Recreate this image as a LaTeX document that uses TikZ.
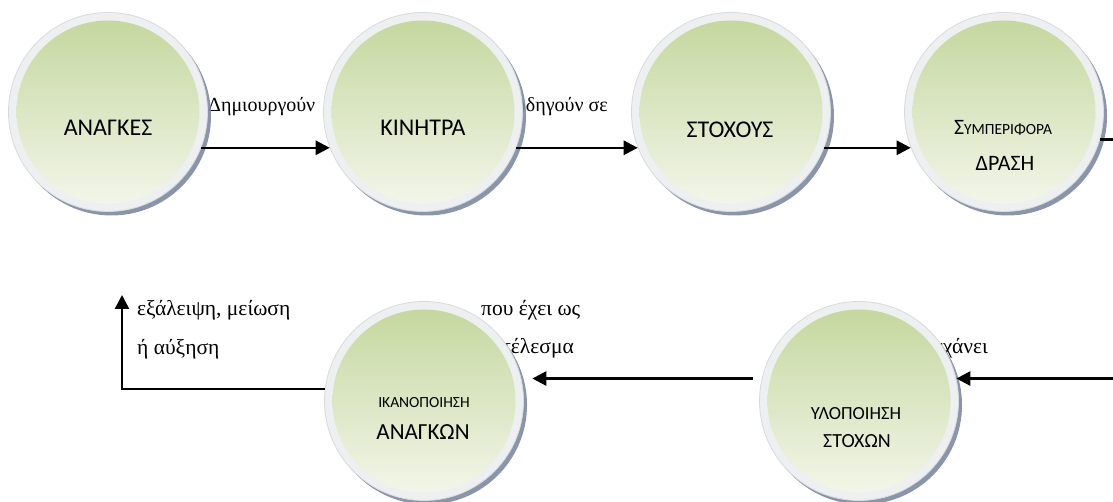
\documentclass[tikz,border=0pt]{standalone}
\usepackage{fontspec}
\setmainfont{Liberation Serif}
\newfontfamily\cfont{Carlito}
\usetikzlibrary{arrows.meta,shadows}

\definecolor{ringgray}{RGB}{238,239,240}
\definecolor{ringedge}{RGB}{215,218,222}
\definecolor{shadowblue}{RGB}{125,138,160}
\definecolor{greentop}{RGB}{195,214,156}
\definecolor{greenmid}{RGB}{214,227,186}
\definecolor{greenbot}{RGB}{244,247,236}

\tikzset{
  bubble/.style={circle, minimum size=199pt, inner sep=0pt,
    fill=ringgray, draw=ringedge, line width=0.8pt,
    drop shadow={shadow xshift=3.5pt, shadow yshift=-4pt, fill=shadowblue, opacity=0.9},
    path picture={\shade[top color=greentop, middle color=greenmid, bottom color=greenbot]
      (path picture bounding box.center) circle (91.5pt);}},
  flow/.style={line width=2.5pt, -{Triangle[length=14pt,width=14pt]}},
  lbl/.style={font=\fontsize{20}{24}\selectfont, inner sep=0pt},
  lblb/.style={font=\fontsize{21.5}{25}\selectfont, inner sep=0pt},
  ctext/.style={inner sep=0pt}
}

\begin{document}
\begin{tikzpicture}[x=1pt,y=-1pt]
\useasboundingbox (0,0) rectangle (1113,502);
\clip (0,0) rectangle (1113,502);

% connector labels (partly covered by the circles)
\node[lbl, anchor=base west] (l1) at (208,112) {Δημιουργούν};
\node[lbl, anchor=base east] (l2) at (608,112) {οδηγούν σε};
\node[lblb, anchor=base east] (l3) at (988,353) {επιτυγχάνει};
\node[lblb, anchor=base west] (l4a) at (481,316) {που έχει ως};
\node[lblb, anchor=base east] (l4b) at (574,353) {αποτέλεσμα};
\node[lblb, anchor=base west] (l5a) at (137,316) {εξάλειψη, μείωση};
\node[lblb, anchor=base west] (l5b) at (137,354) {ή αύξηση};

% circles
\node[bubble] (c1) at (108,112) {};
\node[bubble] (c2) at (423,112) {};
\node[bubble] (c3) at (731,112) {};
\node[bubble] (c4) at (1004,112) {};
\node[bubble] (c5) at (859,401) {};
\node[bubble] (c6) at (424,401) {};

% circle texts
\node[ctext, font=\cfont\fontsize{24}{28}\selectfont] (t1) at (108,128) {ΑΝΑΓΚΕΣ};
\node[ctext, font=\cfont\fontsize{24}{28}\selectfont] (t2) at (423,128) {ΚΙΝΗΤΡΑ};
\node[ctext, font=\cfont\fontsize{24}{28}\selectfont] (t3) at (730,130) {ΣΤΟΧΟΥΣ};
\node[ctext, font=\cfont] (t4a) at (1003,128) {\fontsize{22}{26}\selectfont Σ\fontsize{15.5}{18}\selectfont ΥΜΠΕΡΙΦΟΡΑ};
\node[ctext, font=\cfont\fontsize{22}{26}\selectfont] (t4b) at (1005,163) {ΔΡΑΣΗ};
\node[ctext, font=\cfont\fontsize{18.5}{22}\selectfont] (t5a) at (856,414) {ΥΛΟΠΟΙΗΣΗ};
\node[ctext, font=\cfont\fontsize{20}{24}\selectfont] (t5b) at (857,441) {ΣΤΟΧΩΝ};
\node[ctext, font=\cfont\fontsize{15.5}{18}\selectfont] (t6a) at (424,403) {ΙΚΑΝΟΠΟΙΗΣΗ};
\node[ctext, font=\cfont\fontsize{23}{27}\selectfont] (t6b) at (423,432) {ΑΝΑΓΚΩΝ};

% connectors
\coordinate (offr) at (1130,250);
\coordinate (ret) at (122,295);
\draw[flow] (c1.-21) -- (c2.201);
\draw[flow] (c2.-21) -- (c3.201);
\draw[flow] (c3.-21) -- (c4.201);
\draw[flow] (c4.-16) -| (offr |- c5.13) -- (c5.13);
\draw[flow, shorten <=9pt, shorten >=11pt] (c5.167) -- (c6.13);
\draw[flow] (c6.173) -| (ret);
\end{tikzpicture}
\end{document}
